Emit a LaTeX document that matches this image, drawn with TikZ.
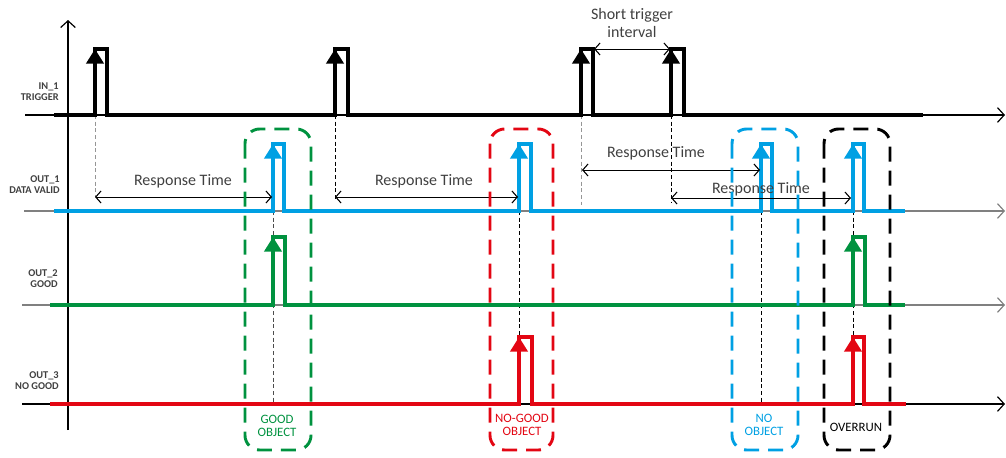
\documentclass[tikz,border=0pt]{standalone}
\usepackage{fontspec}
\setmainfont{Carlito}
\usetikzlibrary{arrows.meta}
\definecolor{sigblue}{RGB}{0,160,227}
\definecolor{siggreen}{RGB}{0,146,63}
\definecolor{sigred}{RGB}{227,6,19}
\definecolor{txtgrey}{RGB}{64,64,64}
\definecolor{guidegrey}{RGB}{150,150,150}
\begin{document}
\begin{tikzpicture}[x=0.75pt,y=-0.75pt,
  axisline/.style={line width=0.8pt,-{Straight Barb[length=5pt,width=11pt,line width=0.9pt]}},
  sig/.style={line width=2.4pt,line join=miter},
  sigtip/.style={line width=2.4pt,-{Triangle[length=11pt,width=13pt]}},
  guide/.style={line width=0.6pt,dash pattern=on 3pt off 2pt},
  measure/.style={line width=0.6pt,black,{Straight Barb[length=4pt,width=9pt,line width=0.8pt]}-{Straight Barb[length=4pt,width=9pt,line width=0.8pt]}},
  frame/.style={line width=2.2pt,dash pattern=on 11.25pt off 6.75pt,rounded corners=11pt},
  siglabel/.style={anchor=east,align=right,font=\fontsize{7.8}{8.3}\selectfont\bfseries,text=txtgrey,inner sep=0pt},
  measlabel/.style={font=\fontsize{12}{13.5}\selectfont,text=txtgrey,inner sep=0pt,align=center},
  boxlabel/.style={font=\fontsize{9.6}{10}\selectfont,inner sep=0pt,align=center}
]
\useasboundingbox (0,0) rectangle (1006,457);

% axes
\draw[line width=0.8pt,-{Straight Barb[length=5pt,width=11pt,line width=0.9pt]}] (68,430) -- (68,20);
\coordinate (a1s) at (25,115);  \coordinate (a1e) at (1005,115);
\coordinate (a2s) at (24,211);  \coordinate (a2e) at (1005,211);
\coordinate (a3s) at (22,305);  \coordinate (a3e) at (1005,305);
\coordinate (a4s) at (22,404);  \coordinate (a4e) at (1005,404);
\draw[axisline,black] (a1s) -- (a1e);
\draw[axisline,gray] (a2s) -- (a2e);
\draw[axisline,gray] (a3s) -- (a3e);
\draw[axisline,black] (a4s) -- (a4e);

% signal labels
\node[siglabel] (l1) at (59,92) {IN\_1\\TRIGGER};
\node[siglabel] (l2) at (60,185) {OUT\_1\\DATA VALID};
\node[siglabel] (l3) at (58,279) {OUT\_2\\GOOD};
\node[siglabel] (l4) at (59,381) {OUT\_3\\NO GOOD};

% guide lines
\draw[guide,guidegrey] (95,115) -- (95,197);
\draw[guide,guidegrey] (581,115) -- (581,205);
\draw[guide,black] (335,115) -- (335,200);
\draw[guide,black] (671,115) -- (671,203);
\draw[guide,black!70] (273,211) -- (273,404);
\draw[guide,black] (519,211) -- (519,337);
\draw[guide,black] (761,211) -- (761,404);
\draw[guide,black] (853,211) -- (853,337);

% IN_1
\draw[sig,black] (54,115) -- (95,115) -- (95,49) -- (107,49) -- (107,115)
  -- (335,115) -- (335,49) -- (348,49) -- (348,115)
  -- (581,115) -- (581,49) -- (593,49) -- (593,115)
  -- (671,115) -- (671,49) -- (684,49) -- (684,115) -- (923,115);
\foreach \x in {95,335,581,671} \draw[sigtip,black] (\x,115) -- (\x,49);

% OUT_1
\draw[sig,sigblue] (54,211) -- (273,211) -- (273,144) -- (284,144) -- (284,211)
  -- (519,211) -- (519,144) -- (531,144) -- (531,211)
  -- (761,211) -- (761,144) -- (772,144) -- (772,211)
  -- (853,211) -- (853,144) -- (864,144) -- (864,211) -- (905,211);
\foreach \x in {273,519,761,853} \draw[sigtip,sigblue] (\x,211) -- (\x,144);

% OUT_2
\draw[sig,siggreen] (50,305) -- (273,305) -- (273,237) -- (285,237) -- (285,305)
  -- (853,305) -- (853,237) -- (865,237) -- (865,305) -- (905,305);
\foreach \x in {273,853} \draw[sigtip,siggreen] (\x,305) -- (\x,237);

% OUT_3
\draw[sig,sigred] (50,404) -- (519,404) -- (519,337) -- (532,337) -- (532,404)
  -- (853,404) -- (853,337) -- (864,337) -- (864,404) -- (906,404);
\foreach \x in {519,853} \draw[sigtip,sigred] (\x,404) -- (\x,337);

% short trigger interval
\coordinate (st1) at (594,49); \coordinate (st2) at (670,49);
\draw[measure] (st1) -- (st2);
\node[measlabel] (stl) at (632,23) {Short trigger\\interval};

% response times
\coordinate (r1a) at (95,197);  \coordinate (r1b) at (272,197);
\coordinate (r2a) at (335,197); \coordinate (r2b) at (518,197);
\coordinate (r3a) at (582,170); \coordinate (r3b) at (760,170);
\coordinate (r4a) at (671,198); \coordinate (r4b) at (851,198);
\draw[measure] (r1a) -- (r1b);
\draw[measure] (r2a) -- (r2b);
\draw[measure] (r3a) -- (r3b);
\draw[measure] (r4a) -- (r4b);
\node[measlabel] (rt1) at (183,181) {Response Time};
\node[measlabel] (rt2) at (424,181) {Response Time};
\node[measlabel] (rt3) at (656,153) {Response Time};
\node[measlabel] (rt4) at (761,189) {Response Time};

% frames
\draw[frame,siggreen] (245,129) rectangle (311,450);
\draw[frame,sigred] (490,129) rectangle (553,450);
\draw[frame,sigblue] (732,129) rectangle (798,450);
\draw[frame,black] (824,129) rectangle (890,450);

\node[boxlabel,text=siggreen] (bg) at (277,426) {GOOD\\OBJECT};
\node[boxlabel,text=sigred] (br) at (522,425) {NO-GOOD\\OBJECT};
\node[boxlabel,text=sigblue] (bb) at (764,425) {NO\\OBJECT};
\node[boxlabel,text=black] (bk) at (856,427) {OVERRUN};
\end{tikzpicture}
\end{document}
